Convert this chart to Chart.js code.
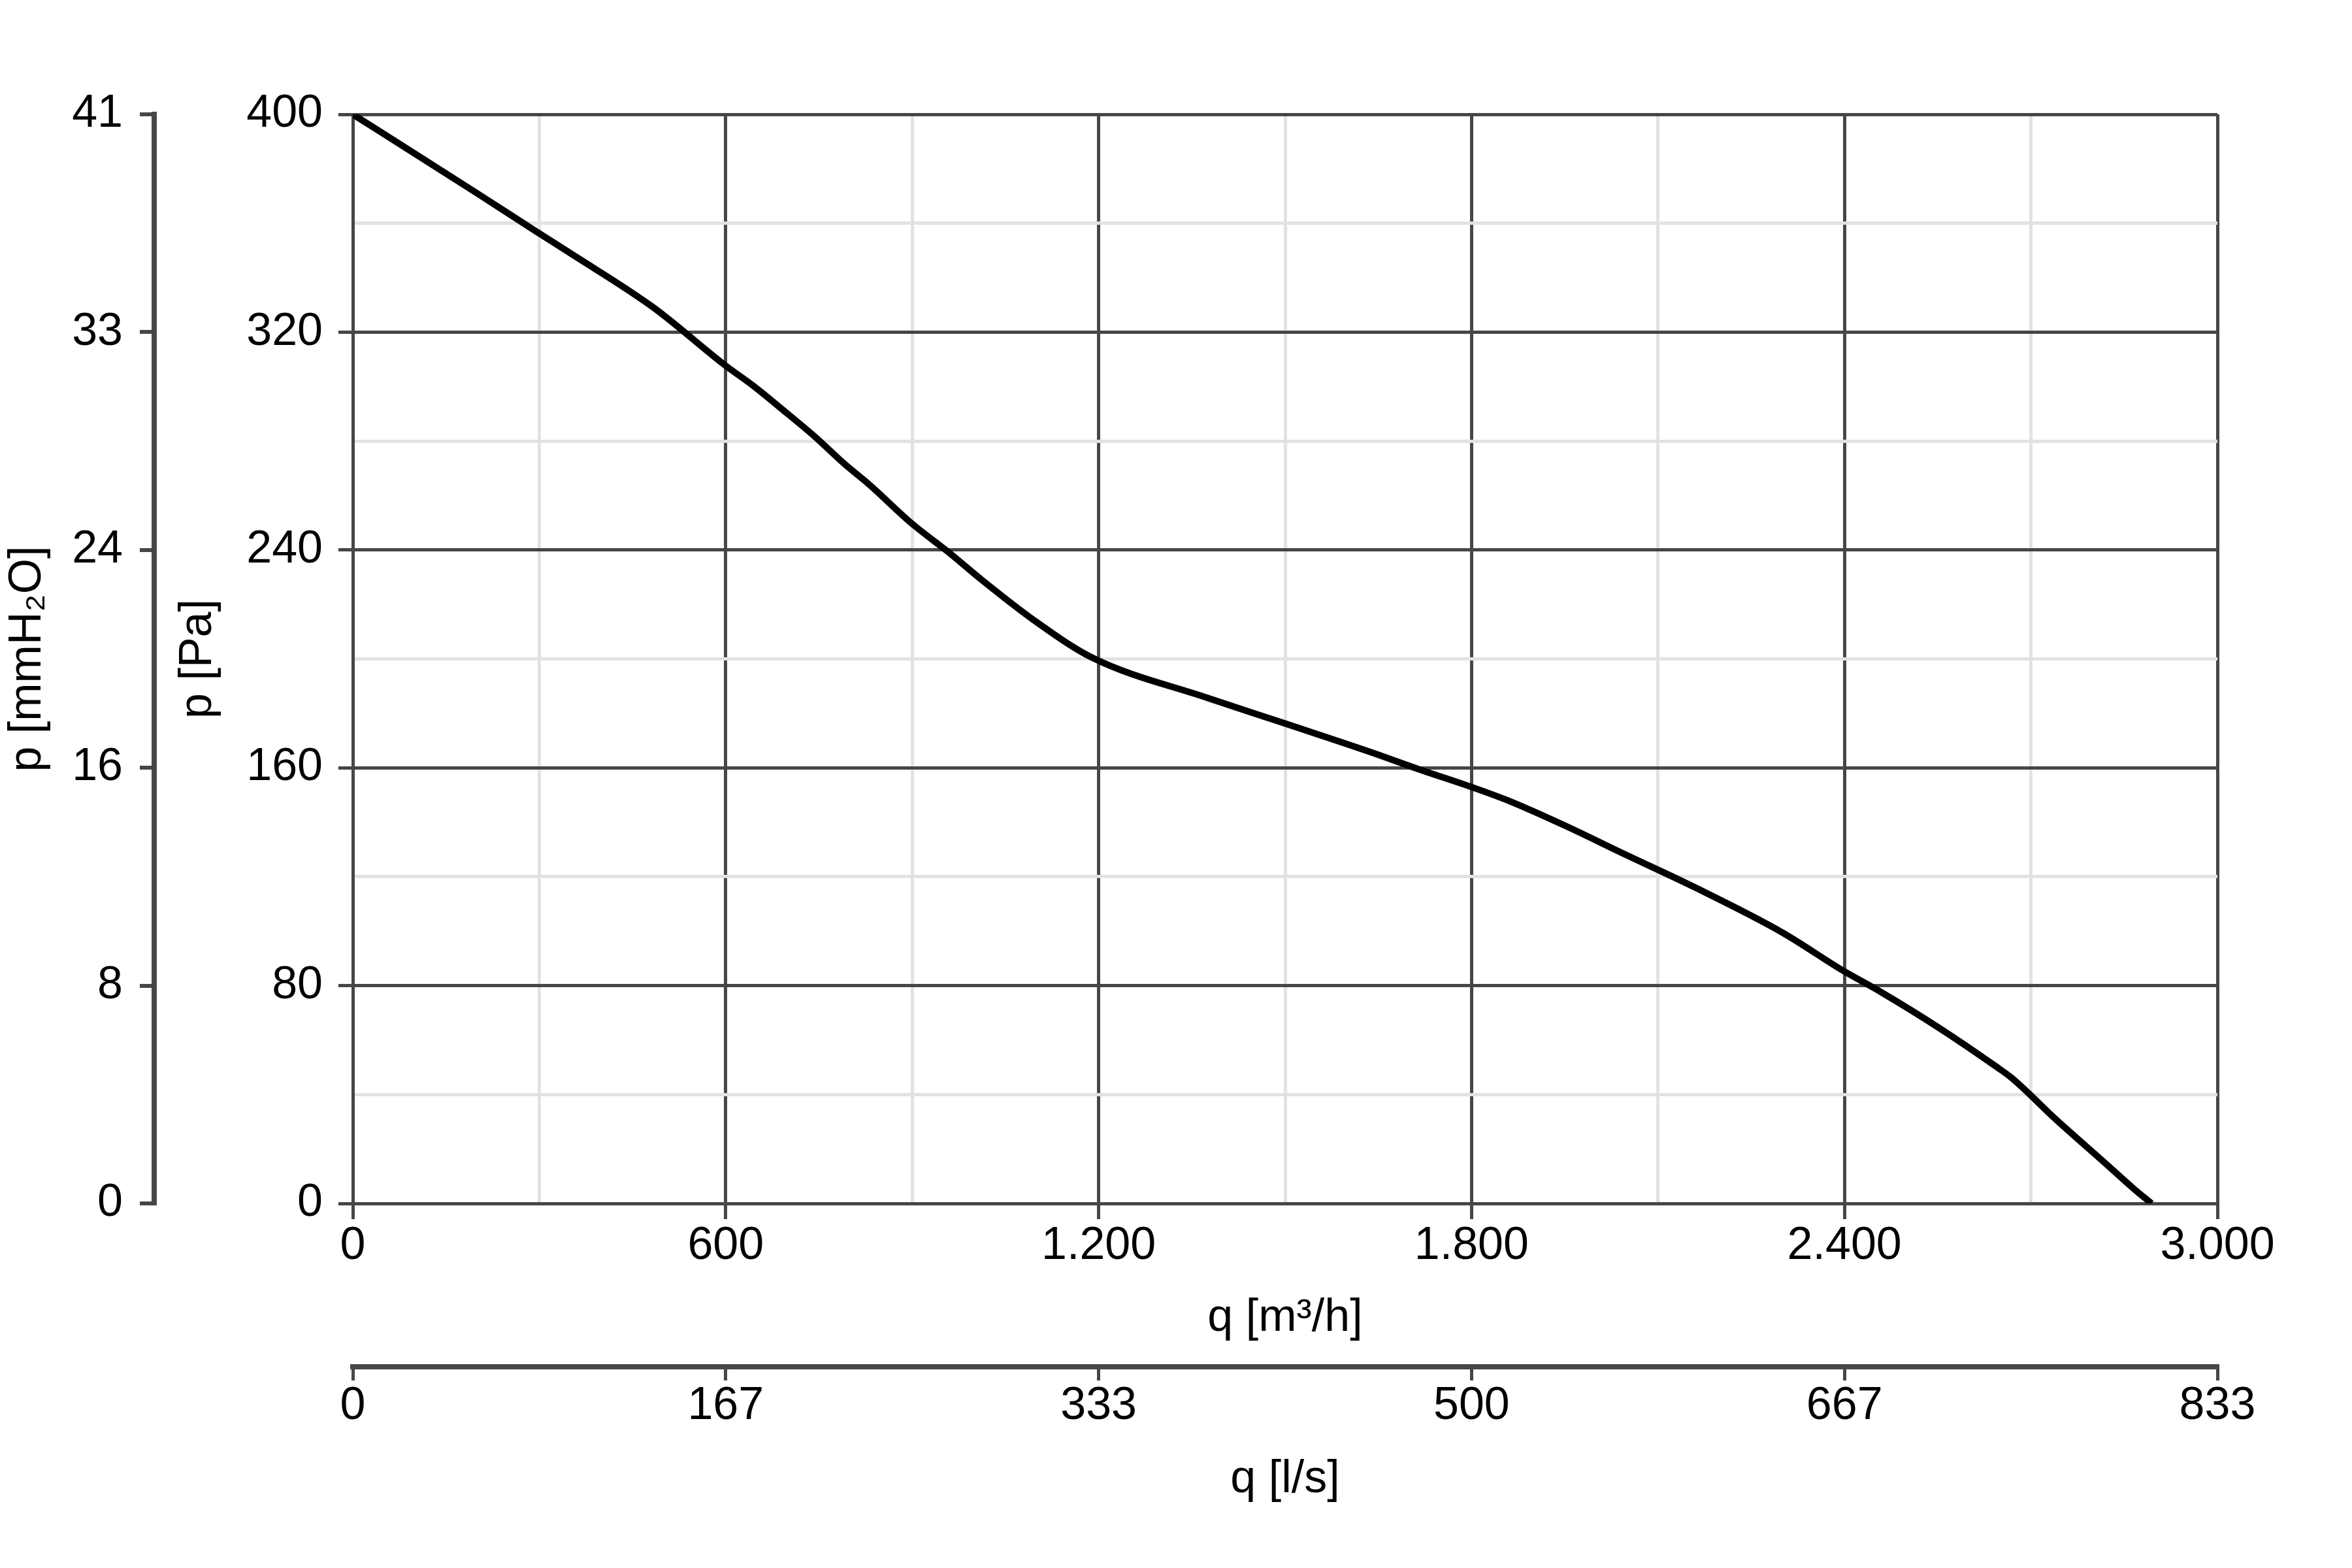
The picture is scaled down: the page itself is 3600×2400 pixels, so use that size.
<!DOCTYPE html>
<html>
<head>
<meta charset="utf-8">
<title>Fan curve</title>
<script src="https://cdn.jsdelivr.net/npm/chart.js@4/dist/chart.umd.min.js"></script>
<style>
    body { margin: 0; background: #ffffff; }
    #wrap { width: 3600px; height: 2400px; }
</style>
</head>
<body>
<div id="wrap"><canvas id="fanChart" width="3600" height="2400"></canvas></div>
<script>
// Fan characteristic - static pressure vs air flow

// curve
const flowM3h = [0, 90, 200, 295, 350, 484, 598, 646, 689, 743, 791, 831, 900, 960, 1012,
    1099, 1190, 1376, 1498, 1637, 1716, 1803, 1864, 1951, 2047, 2160, 2300,
    2397, 2459, 2552, 2645, 2669, 2740, 2819, 2866, 2894];
const pressurePa = [400, 387, 371, 357, 349, 329, 308, 300, 292, 281.7, 271.6, 264, 249.6, 238.9, 229,
    213.7, 200.4, 185.6, 176.4, 165.8, 159.4, 152.7, 147.5, 138.7, 128.2, 116, 99.5,
    85.6, 77.6, 64.5, 50.1, 46.1, 30.9, 14.9, 5.3, 0];

// tick labels
const flowTicks = ['0', '600', '1.200', '1.800', '2.400', '3.000'];
const flowLsTicks = ['0', '167', '333', '500', '667', '833'];
const pressureTicks = ['0', '80', '160', '240', '320', '400'];
const pressureMmTicks = ['0', '8', '16', '24', '33', '41'];

const DARK = '#464646';
const LIGHT = '#e2e2e2';
const FONT = "'Liberation Sans', Arial, sans-serif";

function tickFont() {
    return { family: FONT, size: 70, lineHeight: 1 };
}

function isMajor(value, step) {
    return Math.abs(value % step) < 1e-6;
}

const points = flowM3h.map(function(q, i) {
    return { x: q, y: pressurePa[i] };
});

Chart.defaults.color = '#000000';

new Chart(document.getElementById('fanChart'), {
    type: 'line',
    data: {
        datasets: [{
            data: points,
            borderColor: '#000000',
            borderWidth: 10,
            pointRadius: 0,
            cubicInterpolationMode: 'monotone',
            fill: false
        }]
    },
    options: {
        responsive: false,
        animation: false,
        layout: { padding: { top: 175, right: 206, bottom: 0, left: 0 } },
        plugins: {
            legend: { display: false },
            tooltip: { enabled: false }
        },
        scales: {
            x: {
                type: 'linear',
                position: 'bottom',
                weight: 0,
                min: 0,
                max: 3000,
                afterFit: function(scale) { scale.height = 250; },
                border: { color: DARK, width: 5 },
                grid: {
                    color: function(ctx) { return isMajor(ctx.tick.value, 600) ? DARK : LIGHT; },
                    tickColor: function(ctx) { return isMajor(ctx.tick.value, 600) ? DARK : 'rgba(0,0,0,0)'; },
                    lineWidth: 5,
                    tickLength: 24
                },
                ticks: {
                    stepSize: 300,
                    autoSkip: false,
                    maxRotation: 0,
                    padding: 7,
                    font: tickFont(),
                    callback: function(value) {
                        return isMajor(value, 600) ? flowTicks[Math.round(value / 600)] : '';
                    }
                },
                title: {
                    display: true,
                    text: 'q [m³/h]',
                    font: tickFont(),
                    padding: { top: 0, bottom: 39 }
                }
            },
            x2: {
                type: 'linear',
                position: 'bottom',
                weight: 1,
                min: 0,
                max: 3000,
                afterFit: function(scale) { scale.height = 308; },
                border: { color: DARK, width: 8 },
                grid: {
                    drawOnChartArea: false,
                    color: DARK,
                    lineWidth: 5,
                    tickLength: 21
                },
                ticks: {
                    stepSize: 600,
                    autoSkip: false,
                    maxRotation: 0,
                    padding: 5,
                    font: tickFont(),
                    callback: function(value) {
                        return flowLsTicks[Math.round(value / 600)];
                    }
                },
                title: {
                    display: true,
                    text: 'q [l/s]',
                    font: tickFont(),
                    padding: { top: 0, bottom: 100 }
                }
            },
            y: {
                type: 'linear',
                position: 'left',
                weight: 0,
                min: 0,
                max: 400,
                afterFit: function(scale) { scale.width = 304; },
                border: { color: DARK, width: 5 },
                grid: {
                    color: function(ctx) { return isMajor(ctx.tick.value, 80) ? DARK : LIGHT; },
                    tickColor: function(ctx) { return isMajor(ctx.tick.value, 80) ? DARK : 'rgba(0,0,0,0)'; },
                    lineWidth: 5,
                    tickLength: 22
                },
                ticks: {
                    stepSize: 40,
                    autoSkip: false,
                    padding: 24,
                    font: tickFont(),
                    callback: function(value) {
                        return isMajor(value, 80) ? pressureTicks[Math.round(value / 80)] : '';
                    }
                },
                title: {
                    display: true,
                    text: 'p [Pa]',
                    font: tickFont(),
                    padding: { top: 33, bottom: 0 }
                }
            },
            y2: {
                type: 'linear',
                position: 'left',
                weight: 1,
                min: 0,
                max: 400,
                afterFit: function(scale) { scale.width = 236; },
                border: { color: DARK, width: 8 },
                grid: {
                    drawOnChartArea: false,
                    color: DARK,
                    lineWidth: 6,
                    tickLength: 22
                },
                ticks: {
                    stepSize: 80,
                    autoSkip: false,
                    padding: 26,
                    font: tickFont(),
                    callback: function(value) {
                        return pressureMmTicks[Math.round(value / 80)];
                    }
                },
                title: {
                    display: true,
                    text: 'p [mmH₂O]',
                    font: tickFont(),
                    padding: { top: 8, bottom: 0 }
                }
            }
        }
    }
});
</script>
</body>
</html>
